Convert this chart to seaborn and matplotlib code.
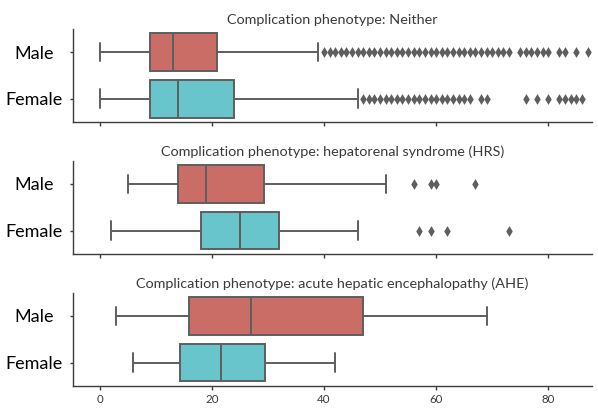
import numpy as np
import pandas as pd
import matplotlib
matplotlib.use("Agg")
import matplotlib.pyplot as plt
import seaborn as sns

sexes = ['Male', 'Female']
phenotypes = ['Neither',
              'hepatorenal syndrome (HRS)',
              'acute hepatic encephalopathy (AHE)']

# five-number summaries read off the boxes:
# lower whisker, Q1, median, Q3, upper whisker
neither_male = [0, 9, 13, 21, 39]
neither_female = [0, 9, 14, 24, 46]
hrs_male = [5, 14, 19, 29.3, 51]
hrs_female = [2, 18, 25, 32, 46]
ahe_male = [3, 16, 27, 47, 69]
ahe_female = [6, 14.4, 21.6, 29.5, 42]

# outliers (diamonds)
neither_male_out = [40, 41, 42, 43, 44, 45, 46, 47, 48, 49, 50, 51, 52, 53,
                    54, 55, 56, 57, 58, 59, 60, 61, 62, 63, 64, 65, 66, 67,
                    68, 69, 70, 71, 72, 73, 75, 76, 77, 78, 79, 80, 82, 83,
                    85, 87]
neither_female_out = [47, 48, 49, 50, 51, 52, 53, 54, 55, 56, 57, 58, 59, 60,
                      61, 62, 63, 64, 65, 66, 68, 69, 76, 78, 80, 82, 83, 84,
                      85, 86]
hrs_male_out = [56, 59, 60, 67]
hrs_female_out = [57, 59, 62, 73]
ahe_male_out = []
ahe_female_out = []

xticks = [0, 20, 40, 60, 80]

sns.set_theme(style='ticks')
plt.rcParams['font.family'] = ['Lato', 'DejaVu Sans']

palette = sns.color_palette('hls', 2)
gray = (0.37, 0.37, 0.37)
text_gray = '#3a3a3a'
spine_gray = '#3c3c3c'


def long_form(male, female):
    return pd.DataFrame({'sex': ['Male'] * len(male) + ['Female'] * len(female),
                         'value': list(male) + list(female)})


panels = [
    (phenotypes[0], long_form(neither_male, neither_female),
     long_form(neither_male_out, neither_female_out)),
    (phenotypes[1], long_form(hrs_male, hrs_female),
     long_form(hrs_male_out, hrs_female_out)),
    (phenotypes[2], long_form(ahe_male, ahe_female),
     long_form(ahe_male_out, ahe_female_out)),
]

fig, axes = plt.subplots(3, 1, sharex=True, figsize=(5.98, 4.09), dpi=100)
fig.subplots_adjust(left=0.122, right=0.99, top=0.930, bottom=0.056,
                    hspace=0.41)

for ax, (name, box, out) in zip(axes, panels):
    sns.boxplot(data=box, x='value', y='sex', hue='sex', order=sexes,
                hue_order=sexes, palette=palette, whis=np.inf, width=0.8,
                linecolor=gray, linewidth=1.4, legend=False, ax=ax)
    if len(out):
        sns.stripplot(data=out, x='value', y='sex', order=sexes,
                      jitter=False, marker='d', size=5.5, color=gray,
                      linewidth=0, ax=ax)
    ax.set_title(f'Complication phenotype: {name}', fontsize=10.4, pad=3,
                 color=text_gray)
    ax.set(xlabel='', ylabel='')
    ax.tick_params(axis='y', length=2.5, width=1.0, pad=25.5, labelsize=13,
                   labelcolor='black', color=spine_gray)
    for lab in ax.get_yticklabels():
        lab.set_horizontalalignment('center')
    ax.tick_params(axis='x', length=3, width=1.0, pad=3, labelsize=8.3,
                   labelcolor=text_gray, color=spine_gray)
    sns.despine(ax=ax)
    for side in ['left', 'bottom']:
        ax.spines[side].set_linewidth(1.0)
        ax.spines[side].set_color(spine_gray)

axes[-1].set_xticks(xticks)
axes[-1].set_xlim(-4.76, 87.8)

fig.savefig('out.png', dpi=100)
